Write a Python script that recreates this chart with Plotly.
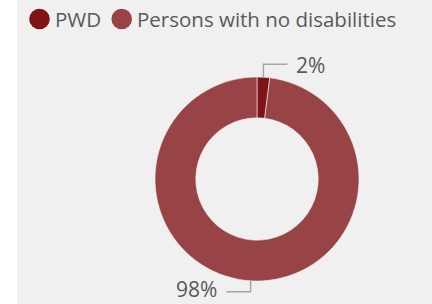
import math
import plotly.graph_objects as go

# ---- data ----
labels = ["PWD", "Persons with no disabilities"]
values = [2, 98]
colors = ["#7f1416", "#984446"]
pct_text = ["2%", "98%"]

# ---- layout constants (pixels) ----
W, H = 432, 304
CX, CY, R = 257, 179, 102
HOLE = 0.6
FONT = "Open Sans"
TXT = "#595959"
LINE = "#a6a6a6"

def px(x):
    return x / W

def py(y):
    return 1 - y / H

fig = go.Figure()
fig.add_trace(go.Pie(
    labels=labels, values=values, hole=HOLE, sort=False, direction="clockwise",
    rotation=0, textinfo="none", hoverinfo="label+percent",
    marker=dict(colors=colors, line=dict(color="#f0f0f0", width=0.6)),
    domain=dict(x=[px(CX - R), px(CX + R)], y=[py(CY + R), py(CY - R)]),
    showlegend=False,
))

shapes = [dict(type="rect", xref="paper", yref="paper", x0=px(17), x1=1, y0=0, y1=1,
               fillcolor="#f0f0f0", line=dict(width=0), layer="below")]
annotations = []

# leader lines + labels computed from slice angles
total = sum(values)
cum = 0
for v, t in zip(values, pct_text):
    mid = (cum + v / 2) / total * 2 * math.pi
    cum += v
    sx = CX + R * math.sin(mid)
    sy = CY - R * math.cos(mid)
    up = math.cos(mid) > 0
    right = math.sin(mid) > 0
    ey = sy - 13 if up else sy + 11
    hx = sx + 24 if right else sx - 24
    shapes.append(dict(type="path", xref="paper", yref="paper",
                       path=f"M {px(sx)},{py(sy)} L {px(sx)},{py(ey)} L {px(hx)},{py(ey)}",
                       line=dict(color=LINE, width=1.5)))
    if up:
        yy, ya = py(ey + 1), "middle"
    else:
        yy, ya = 0, "bottom"
    annotations.append(dict(xref="paper", yref="paper",
                            x=px(hx + 8 if right else hx - 9), y=yy,
                            xanchor="left" if right else "right", yanchor=ya,
                            text=t, showarrow=False, borderpad=0,
                            font=dict(family=FONT, size=21, color=TXT)))

# legend (circles + text)
leg_x = [39.5, 121.7]
leg_text_x = [53, 135]
for c, lx, tx, lab in zip(colors, leg_x, leg_text_x, labels):
    rr = 10.3
    shapes.append(dict(type="circle", xref="paper", yref="paper",
                       x0=px(lx - rr), x1=px(lx + rr), y0=py(19 + rr), y1=py(19 - rr),
                       fillcolor=c, line=dict(width=0)))
    annotations.append(dict(xref="paper", yref="paper", x=px(tx), y=py(19),
                            xanchor="left", yanchor="middle", text=lab, showarrow=False,
                            font=dict(family=FONT, size=20.5, color=TXT)))

fig.update_layout(width=W, height=H, margin=dict(l=0, r=0, t=0, b=0),
                  paper_bgcolor="white", plot_bgcolor="white",
                  shapes=shapes, annotations=annotations)
fig.write_html("out.html", config={"displayModeBar": False},
               post_script="document.body.style.margin='0';document.body.style.overflow='hidden';")
